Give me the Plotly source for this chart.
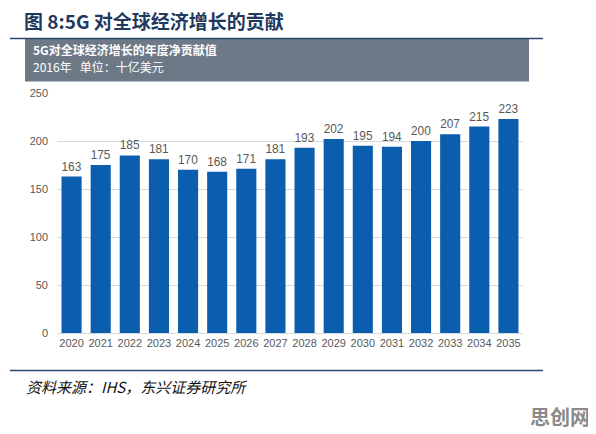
import plotly.graph_objects as go

# 5G annual net contribution to global GDP, billion USD (2016 prices)
years = ["2020", "2021", "2022", "2023", "2024", "2025", "2026", "2027",
         "2028", "2029", "2030", "2031", "2032", "2033", "2034", "2035"]
values = [163, 175, 185, 181, 170, 168, 171, 181,
          193, 202, 195, 194, 200, 207, 215, 223]

# the page body has an 8px margin, so the figure is drawn 8px in from the corner
OFF = 8
W, H = 596 - OFF, 434 - OFF
L, R, T, B = 57 - OFF, 523 - OFF, 93 - OFF, 333 - OFF  # plot area in figure pixels
CJK = "Noto Sans CJK SC"
ARIAL = "Liberation Sans, Arial"

fig = go.Figure()
fig.add_trace(go.Bar(
    x=years,
    y=values,
    marker=dict(color="#0b5eae", line=dict(width=0)),
    text=values,
    textposition="outside",
    textfont=dict(family=ARIAL, size=12, color="#595959"),
    cliponaxis=False,
    hoverinfo="x+y",
))


def px(x, y):
    # screenshot pixel -> paper coordinates (paper = plot area)
    fx, fy = x - OFF, y - OFF
    return (fx - L) / (R - L), (B - fy) / (B - T)


shapes = []
# top rule
x0, y0 = px(10, 38.5)
x1, _ = px(543, 38.5)
shapes.append(dict(type="line", xref="paper", yref="paper", x0=x0, x1=x1, y0=y0, y1=y0,
                   line=dict(color="#2c4868", width=1.5)))
# grey header band
bx0, by0 = px(25, 81.5)
bx1, by1 = px(529, 39)
shapes.append(dict(type="rect", xref="paper", yref="paper", x0=bx0, x1=bx1, y0=by0, y1=by1,
                   fillcolor="#6d7986", line=dict(width=0), layer="below"))
# bottom rule
lx0, ly = px(10, 370.5)
lx1, _ = px(543, 370.5)
shapes.append(dict(type="line", xref="paper", yref="paper", x0=lx0, x1=lx1, y0=ly, y1=ly,
                   line=dict(color="#2c4868", width=1.5)))

annotations = []


def note(text, x, y, size, color, family=CJK, xanchor="left"):
    ax, ay = px(x, y)
    annotations.append(dict(text=text, x=ax, y=ay, xref="paper", yref="paper",
                            xanchor=xanchor, yanchor="middle", showarrow=False,
                            font=dict(family=family, size=size, color=color)))


note("<b>图 8:5G 对全球经济增长的贡献</b>", 22, 21, 19, "#1f3a5f")
note("<b>5G对全球经济增长的年度净贡献值</b>", 31, 50, 12, "#ffffff")
note("2016年   单位：十亿美元", 31, 67, 12, "#ffffff")
note("<i>资料来源：IHS，东兴证券研究所</i>", 24, 386, 15, "#111111")
note("<b>思创网</b>", 592, 416, 20, "#8a8a8a", xanchor="right")

fig.update_layout(
    width=W,
    height=H,
    margin=dict(l=L, r=W - R, t=T, b=H - B, pad=0),
    paper_bgcolor="#ffffff",
    plot_bgcolor="#ffffff",
    showlegend=False,
    bargap=0.31,
    shapes=shapes,
    annotations=annotations,
    xaxis=dict(
        type="category",
        showgrid=False,
        showline=True,
        linecolor="#d9d9d9",
        ticks="",
        tickfont=dict(family=ARIAL, size=11, color="#595959"),
        fixedrange=True,
    ),
    yaxis=dict(
        range=[0, 250],
        tickvals=[0, 50, 100, 150, 200, 250],
        showgrid=True,
        gridcolor="#d9d9d9",
        gridwidth=1,
        zeroline=False,
        ticks="",
        ticklabelstandoff=8,
        tickfont=dict(family=ARIAL, size=11, color="#595959"),
        fixedrange=True,
    ),
)

fig.write_html("out.html")
